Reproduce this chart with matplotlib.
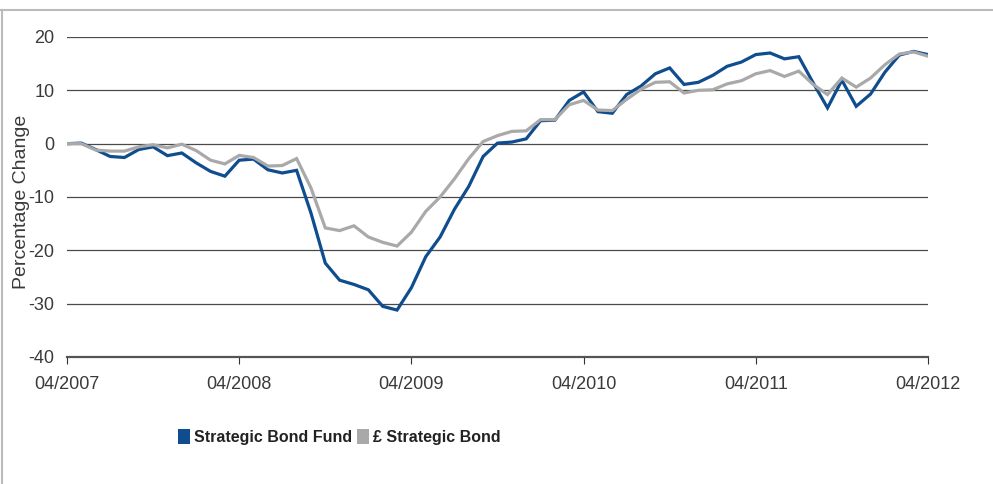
import matplotlib
matplotlib.use('Agg')
import matplotlib.pyplot as plt
from matplotlib.patches import Patch
from matplotlib.lines import Line2D

plt.rcParams['font.family'] = ['Liberation Sans', 'DejaVu Sans']

# Monthly percentage change, 04/2007 .. 04/2012
fund = [0, 0.1, -1.1, -2.4, -2.6, -1.1, -0.6, -2.25, -1.75, -3.6, -5.2, -6.1,
        -3.1, -2.9, -4.9, -5.5, -5.0, -13.0, -22.4, -25.6, -26.4, -27.4, -30.5, -31.2,
        -27.0, -21.2, -17.5, -12.3, -8.0, -2.4, 0.1, 0.3, 0.9, 4.3, 4.4, 8.1,
        9.7, 6.0, 5.7, 9.2, 10.8, 13.1, 14.2, 11.1, 11.5, 12.8, 14.5, 15.3,
        16.7, 17.0, 15.9, 16.3, 11.4, 6.7, 11.9, 7.0, 9.3, 13.4, 16.6, 17.3, 16.7]
sector = [0, 0, -1.2, -1.4, -1.4, -0.6, -0.2, -0.8, -0.1, -1.3, -3.1, -3.8,
          -2.2, -2.6, -4.2, -4.1, -2.8, -8.3, -15.8, -16.3, -15.4, -17.5, -18.5, -19.2,
          -16.6, -12.7, -10.0, -6.6, -2.8, 0.4, 1.5, 2.3, 2.4, 4.5, 4.5, 7.3,
          8.1, 6.3, 6.2, 8.3, 10.2, 11.5, 11.6, 9.5, 10.0, 10.1, 11.2, 11.8,
          13.1, 13.7, 12.6, 13.6, 11.1, 9.2, 12.3, 10.6, 12.3, 14.8, 16.8, 17.2, 16.4]
months = list(range(len(fund)))
tick_pos = [0, 12, 24, 36, 48, 60]
tick_labels = ['04/2007', '04/2008', '04/2009', '04/2010', '04/2011', '04/2012']
series_names = ['Strategic Bond Fund', '£ Strategic Bond']

blue = '#0f4d8e'
grey = '#a9a9a9'
text_col = '#3a3a3a'

fig = plt.figure(figsize=(9.93, 4.84), dpi=100)
ax = fig.add_axes([0.0675, 0.2624, 0.867, 0.6612])

ax.plot(months, fund, color=blue, lw=2.3, solid_joinstyle='miter', zorder=3)
ax.plot(months, sector, color=grey, lw=2.3, solid_joinstyle='miter', zorder=4)

ax.set_xlim(0, 60)
ax.set_ylim(-40, 20)
ax.set_yticks([-40, -30, -20, -10, 0, 10, 20])
ax.set_yticklabels(['-40', '-30', '-20', '-10', '0', '10', '20'])
for v in [-30, -20, -10, 0, 10, 20]:
    ax.axhline(v, color='#4a4a4a', lw=0.9, zorder=1)

for s in ['top', 'right', 'left']:
    ax.spines[s].set_visible(False)
ax.spines['bottom'].set_color('#555555')
ax.spines['bottom'].set_linewidth(1.6)

ax.set_xticks(tick_pos)
ax.set_xticklabels(tick_labels)
ax.tick_params(axis='x', direction='out', length=5, width=0.8, color='#333333',
               pad=9, labelsize=13, labelcolor=text_col)
ax.tick_params(axis='y', length=0, pad=9, labelsize=13, labelcolor=text_col)

ax.set_ylabel('Percentage Change', fontsize=14, color=text_col)
ax.yaxis.set_label_coords(-0.0425, 0.484)

handles = [Patch(facecolor=blue, edgecolor='none'), Patch(facecolor=grey, edgecolor='none')]
fig.legend(handles, series_names, ncol=2, frameon=False, loc='center',
           bbox_to_anchor=(0.342, 0.097), handlelength=0.75, handleheight=1.1,
           handletextpad=0.25, columnspacing=0.3,
           prop={'weight': 'bold', 'size': 11.5})
for t in fig.legends[0].get_texts():
    t.set_color('#222222')

# partial frame round the chart
fig.add_artist(Line2D([0, 1], [0.979, 0.979], transform=fig.transFigure, color='#bbbbbb', lw=1.5))
fig.add_artist(Line2D([0.002, 0.002], [0, 0.979], transform=fig.transFigure, color='#bbbbbb', lw=1.5))

fig.savefig('out.png', dpi=100)
